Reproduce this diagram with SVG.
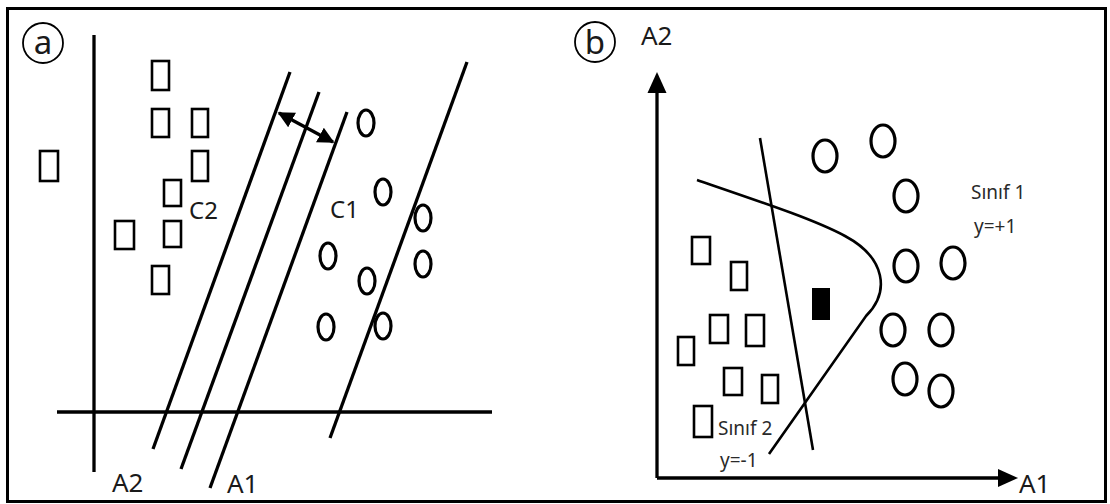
<svg xmlns="http://www.w3.org/2000/svg" width="1110" height="504" viewBox="0 0 1110 504">
<style>
.ln{stroke:#000;stroke-width:3.3;fill:none;stroke-linecap:butt}
.thin{stroke:#000;stroke-width:2.6;fill:none}
.sq{stroke:#000;stroke-width:2.6;fill:none}
.ov{stroke:#000;stroke-width:3.2;fill:none}
.t{font-family:"Noto Sans","Open Sans",sans-serif;fill:#1a1a1a}
.lab{font-size:26px}
.sm{font-size:19px;fill:#2a2a2a}
</style>
<defs>
<marker id="ah" viewBox="0 0 10 10" refX="9" refY="5" markerWidth="5" markerHeight="5" orient="auto-start-reverse" markerUnits="strokeWidth">
<path d="M0,0 L10,5 L0,10 Z" fill="#000"/>
</marker>
</defs>
<rect x="0" y="0" width="1110" height="504" fill="#fff"/>
<rect id="frame" x="7.5" y="8.5" width="1098" height="493" fill="none" stroke="#000" stroke-width="3"/>

<g id="panel-a">
<g id="label-a"><circle cx="43" cy="43" r="20" fill="none" stroke="#000" stroke-width="1.8"/><text class="t" x="43" y="54" font-size="33" text-anchor="middle">a</text></g>
<g id="axes-a">
<line class="ln" x1="94" y1="35" x2="94" y2="472"/>
<line class="ln" x1="57" y1="412" x2="492" y2="412"/>
</g>
<g id="connectors-a">
<line class="ln" x1="290" y1="72" x2="153" y2="449"/>
<line class="ln" x1="319" y1="92" x2="181" y2="469"/>
<line class="ln" x1="347" y1="112" x2="210" y2="488"/>
<line class="ln" x1="467" y1="62" x2="330" y2="438"/>
<line class="ln" x1="279" y1="113" x2="333" y2="142" marker-start="url(#ah)" marker-end="url(#ah)"/>
</g>
<g id="class-c2">
<rect class="sq" x="152" y="61" width="17" height="29"/>
<rect class="sq" x="152" y="109" width="17" height="28"/>
<rect class="sq" x="192" y="109" width="16" height="28"/>
<rect class="sq" x="192" y="151" width="16" height="30"/>
<rect class="sq" x="164" y="180" width="17" height="26"/>
<rect class="sq" x="115" y="221" width="19" height="28"/>
<rect class="sq" x="164" y="221" width="17" height="26"/>
<rect class="sq" x="152" y="266" width="17" height="28"/>
<rect class="sq" x="40" y="151" width="18" height="30"/>
</g>
<g id="class-c1">
<ellipse class="ov" cx="366" cy="123" rx="8" ry="13"/>
<ellipse class="ov" cx="383" cy="192" rx="8" ry="13"/>
<ellipse class="ov" cx="423" cy="218" rx="8" ry="13"/>
<ellipse class="ov" cx="328" cy="256" rx="8" ry="13"/>
<ellipse class="ov" cx="367" cy="281" rx="8" ry="13"/>
<ellipse class="ov" cx="423" cy="264" rx="8" ry="13"/>
<ellipse class="ov" cx="326" cy="327" rx="8" ry="13"/>
<ellipse class="ov" cx="383" cy="326" rx="8" ry="13"/>
</g>
<g id="labels-a">
<text class="t" x="189" y="219" font-size="24">C2</text>
<text class="t" x="330" y="218" font-size="24">C1</text>
<text class="t lab" x="112" y="492">A2</text>
<text class="t lab" x="227" y="493">A1</text>
</g>
</g>

<g id="panel-b">
<g id="label-b"><circle cx="595" cy="42" r="20" fill="none" stroke="#000" stroke-width="1.8"/><text class="t" x="595" y="54" font-size="33" text-anchor="middle">b</text></g>
<g id="axes-b">
<line class="ln" x1="657" y1="90" x2="657" y2="478"/>
<line class="ln" x1="657" y1="478" x2="1002" y2="478"/>
<polygon points="657,72 647.5,93 666.5,93" fill="#000"/>
<polygon points="1018,478 998,469 998,487" fill="#000"/>
<text class="t lab" x="641" y="45">A2</text>
<text class="t lab" x="1019" y="493">A1</text>
</g>
<g id="connectors-b">
<line class="thin" x1="760" y1="138" x2="813" y2="450"/>
<path class="thin" d="M697,180 C770,205 815,220 845,236 C886,258 890,292 866,316 L769,454"/>
</g>
<g id="class-2">
<rect class="sq" x="692" y="237" width="18" height="27"/>
<rect class="sq" x="731" y="262" width="16" height="28"/>
<rect class="sq" x="710" y="315" width="18" height="28"/>
<rect class="sq" x="746" y="315" width="18" height="31"/>
<rect class="sq" x="678" y="337" width="16" height="28"/>
<rect class="sq" x="724" y="368" width="18" height="27"/>
<rect class="sq" x="762" y="375" width="16" height="28"/>
<rect class="sq" x="694" y="406" width="18" height="31"/>
<rect x="812" y="288" width="18" height="32" fill="#000"/>
</g>
<g id="class-1">
<ellipse class="ov" cx="825" cy="156" rx="12" ry="16"/>
<ellipse class="ov" cx="883" cy="141" rx="12" ry="16"/>
<ellipse class="ov" cx="906" cy="196" rx="12" ry="16"/>
<ellipse class="ov" cx="906" cy="266" rx="12" ry="16"/>
<ellipse class="ov" cx="953" cy="263" rx="12" ry="16"/>
<ellipse class="ov" cx="893" cy="330" rx="12" ry="16"/>
<ellipse class="ov" cx="941" cy="330" rx="12" ry="16"/>
<ellipse class="ov" cx="905" cy="379" rx="12" ry="16"/>
<ellipse class="ov" cx="941" cy="391" rx="12" ry="16"/>
</g>
<g id="labels-b">
<text class="t sm" x="718" y="435">Sınıf 2</text>
<text class="t sm" x="720" y="467">y=-1</text>
<text class="t sm" x="971" y="199">Sınıf 1</text>
<text class="t sm" x="974" y="233">y=+1</text>
</g>
</g>
</svg>
